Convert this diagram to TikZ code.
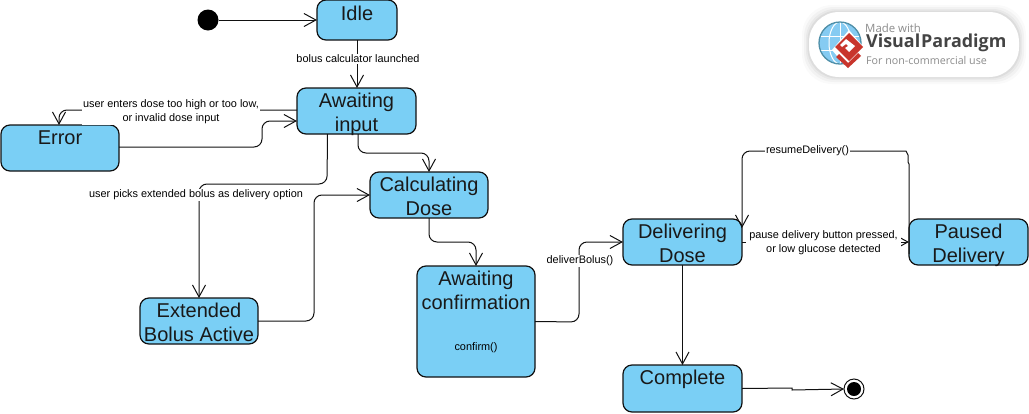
\documentclass[tikz,border=0pt]{standalone}
\usepackage{fontspec}
\setmainfont{Liberation Sans}
\newfontfamily\logofont{Open Sans}
\usetikzlibrary{arrows.meta,calc}
\definecolor{statefill}{HTML}{7ACFF5}
\definecolor{inkline}{HTML}{111111}
\definecolor{globeblue}{HTML}{86CBF2}
\definecolor{globerim}{HTML}{4F8FA8}
\definecolor{logored}{HTML}{C8352C}
\definecolor{logogray}{HTML}{8C8C8C}
\definecolor{logodark}{HTML}{444444}
\tikzset{
  statebox/.style={draw=inkline,fill=statefill,line width=1.2pt,rounded corners=9pt,inner sep=0pt,outer sep=0pt},
  statetext/.style={anchor=north,inner sep=0pt,align=center,text=black!90,font=\fontsize{20}{24}\selectfont},
  conn/.style={draw=inkline,line width=1pt,rounded corners=8pt,-{Straight Barb[length=12pt,width=13pt,line width=1pt]}},
  edgelabel/.style={fill=white,inner sep=1.2pt,align=center,text=black,font=\fontsize{10.9}{14}\selectfont},
  plainlabel/.style={inner sep=0pt,align=center,text=black,font=\fontsize{10.9}{14}\selectfont},
  logotext/.style={anchor=west,inner sep=0pt},
}
\begin{document}
\begin{tikzpicture}[x=1pt,y=-1pt]
\useasboundingbox (0,0) rectangle (1029,413);
% logo badge
\foreach \g/\o in {7/.02,5/.03,3/.04,1.5/.05}{
  \fill[black,opacity=\o,rounded corners=30pt] (809-\g,12-\g) rectangle (1019+\g,77+\g);
}
\fill[white,rounded corners=30pt] (809,12) rectangle (1019,77);
\fill[globeblue] (840,43) circle (21);
\begin{scope}
  \clip (840,43) circle (21);
  \draw[white,line width=1pt] (819,36) -- (861,36) (819,50) -- (861,50) (840,22) -- (840,64);
  \draw[white,line width=1pt] (840,43) ellipse (11 and 21);
\end{scope}
\draw[globerim,line width=1.3pt] (840,43) circle (21);
\fill[white] (849,30) -- (866,50) -- (849,70) -- (832,50) -- cycle;
\fill[logored] (839,54) -- (848,63) -- (858,53) -- (861,56) -- (848,68) -- (836,57) -- cycle;
\fill[logored] (849,33) -- (863,47) -- (849,61) -- (835,47) -- cycle;
\fill[white] (846,39) -- (855,46) -- (849,52) -- (845,48) -- (848,46) -- (846,44) -- (842,47) -- (840,45) -- cycle;
\node[logotext,text=logogray,font=\logofont\fontsize{11.4}{14}\selectfont] (logoa) at (865,28) {Made with};
\node[logotext,text=logodark,font=\logofont\bfseries\fontsize{17.9}{20}\selectfont] (logob) at (866,43) {Visual\hspace{1pt}Paradigm};
\node[logotext,text=logogray,font=\logofont\fontsize{10.7}{14}\selectfont] (logoc) at (866,60) {For non-commercial use};

% states
\node[circle,fill=black,minimum size=21pt,inner sep=0pt,outer sep=0pt] (start) at (208,20) {};
\node[statebox,minimum width=80pt,minimum height=40pt] (idle) at (357,20) {};
\node[statebox,minimum width=119pt,minimum height=46pt] (awi) at (356.5,111) {};
\node[statebox,minimum width=118pt,minimum height=46pt] (err) at (60,148) {};
\node[statebox,minimum width=118pt,minimum height=46pt] (calc) at (429,195) {};
\node[statebox,minimum width=118pt,minimum height=46pt] (ext) at (199,321) {};
\node[statebox,minimum width=118pt,minimum height=111pt] (awc) at (476,321.5) {};
\node[statebox,minimum width=119pt,minimum height=46pt] (del) at (682.5,242) {};
\node[statebox,minimum width=119pt,minimum height=46pt] (pau) at (968.5,242) {};
\node[statebox,minimum width=119pt,minimum height=47pt] (com) at (682.5,388.5) {};
\node[circle,draw=inkline,line width=1pt,fill=white,minimum size=20pt,inner sep=0pt,outer sep=0pt] (fin) at (854,389) {};
\node[circle,fill=black,minimum size=14pt,inner sep=0pt] (fincore) at (fin.center) {};

% connectors
\draw[conn] (start.east) -- (idle.west);
\draw[conn] (idle.south) -- (awi.north -| idle.south);
\draw[conn] ([yshift=1pt]awi.west) -- (59,110) -- (err.north -| 59,0);
\draw[conn] ([yshift=1pt]err.east) -- (262,147) -- (262,121) -- ([yshift=-10pt]awi.west);
\draw[conn] (awi.south -| 358,0) -- (358,153) -- (429,153) -- (calc.north);
\draw[conn] ([xshift=-29pt]awi.south) -- (327,184) -- (199,184) -- (ext.north);
\draw[conn] (ext.east) -- (314,321) -- (314,195) -- (calc.west);
\draw[conn] (calc.south) -- (429,242) -- (476,242) -- (awc.north);
\draw[conn] (awc.east) -- (579,322) -- (579,242) -- (del.west);
\draw[conn] (del.east) -- (pau.west);
\draw[conn,sharp corners] ([yshift=-12pt]pau.west) -- (909,164) -- (908,162) -- (908,155) -- (906,151) -- (750,151) [rounded corners=8pt] -- (742,151) -- ([yshift=14pt]del.east);
\draw[conn] (del.south) -- (com.north);
\draw[conn,rounded corners=0pt] (com.east) -- (792,388) -- (792,390) -- (fin.west);

% state names
\node[statetext] (t1) at ([yshift=-3pt]idle.north) {\strut Idle};
\node[statetext] (t2) at ([yshift=-2.5pt]awi.north) {\strut Awaiting\\input};
\node[statetext] (t3) at ([yshift=-2.5pt]err.north) {\strut Error};
\node[statetext] (t4) at ([yshift=-2.5pt]calc.north) {\strut Calculating\\Dose};
\node[statetext] (t5) at ([yshift=-2.5pt]ext.north) {\strut Extended\\Bolus Active};
\node[statetext] (t6) at ([yshift=-2.5pt]awc.north) {\strut Awaiting\\confirmation};
\node[statetext] (t7) at ([yshift=-2.5pt]del.north) {\strut Delivering\\Dose};
\node[statetext] (t8) at ([yshift=-2.5pt]pau.north) {\strut Paused\\Delivery};
\node[statetext] (t9) at ([yshift=-2.5pt]com.north) {\strut Complete};
\node[plainlabel] (t10) at (476,348) {confirm()};

% connector labels
\node[edgelabel] (l1) at (358,59) {bolus calculator launched};
\node[edgelabel] (l2) at (171,111.5) {user enters dose too high or too low,\\or invalid dose input};
\node[edgelabel] (l3) at (196,195) {user picks extended bolus as delivery option};
\node[edgelabel] (l4) at (580,261) {deliverBolus()};
\node[edgelabel,inner xsep=3pt] (l5) at (823.5,243) {pause delivery button pressed,\\or low glucose detected};
\node[edgelabel,inner ysep=0pt] (l6) at (807.5,150.5) {resumeDelivery()};
\end{tikzpicture}
\end{document}
